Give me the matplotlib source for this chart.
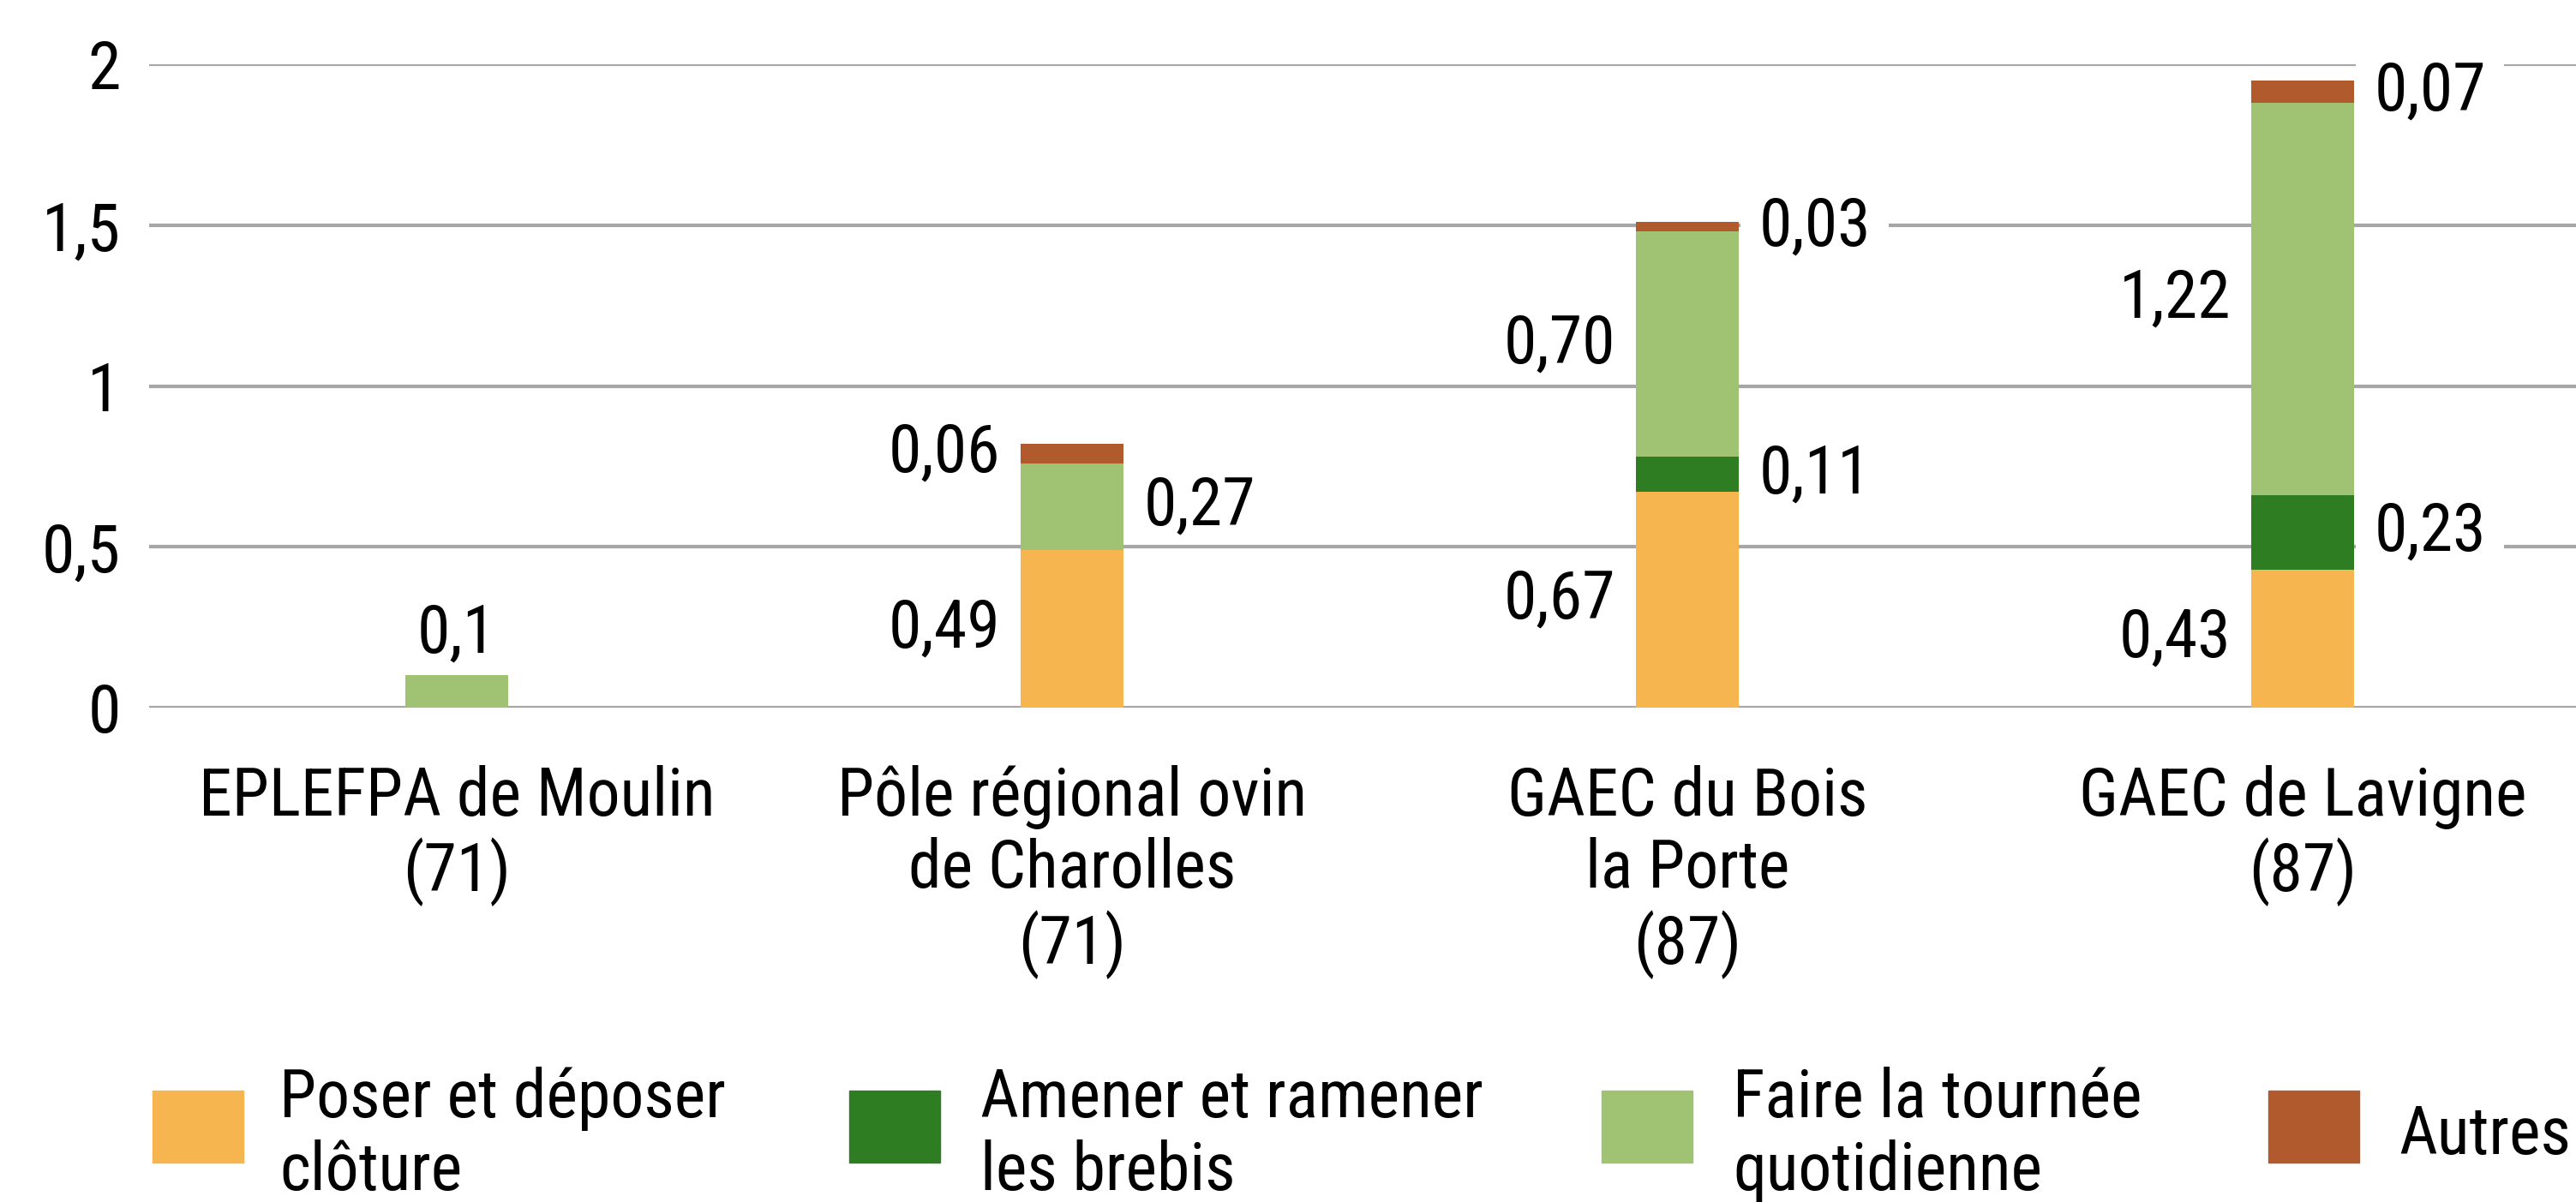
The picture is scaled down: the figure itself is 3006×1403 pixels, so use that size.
import matplotlib
matplotlib.use("Agg")
import matplotlib.pyplot as plt
from matplotlib import font_manager
from matplotlib.patches import Rectangle
import numpy as np

# ---- data ----
categories = ["EPLEFPA de Moulin\n(71)",
              "Pôle régional ovin\nde Charolles\n(71)",
              "GAEC du Bois\nla Porte\n(87)",
              "GAEC de Lavigne\n(87)"]
series_names = ["Poser et déposer\nclôture",
                "Amener et ramener\nles brebis",
                "Faire la tournée\nquotidienne",
                "Autres"]
poser = [0.0, 0.49, 0.67, 0.43]
amener = [0.0, 0.0, 0.11, 0.23]
tournee = [0.10, 0.27, 0.70, 1.22]
autres = [0.0, 0.06, 0.03, 0.07]
label_texts = [
    [None, "0,49", "0,67", "0,43"],
    [None, None, "0,11", "0,23"],
    ["0,1", "0,27", "0,70", "1,22"],
    [None, "0,06", "0,03", "0,07"],
]
yticks = [0, 0.5, 1, 1.5, 2]
ytick_labels = ["0", "0,5", "1", "1,5", "2"]

# ---- style ----
colors = ["#F7B550", "#2E7D23", "#A0C373", "#B05A2E"]
# side of label: -1 left, +1 right, 0 above
label_side = [
    [0, -1, -1, -1],
    [0, 0, 1, 1],
    [0, 1, -1, -1],
    [0, -1, 1, 1],
]

avail = {f.name for f in font_manager.fontManager.ttflist}
family = "DejaVu Sans"
for cand in ["Liberation Sans Narrow", "Roboto Condensed", "Open Sans Condensed", "Roboto"]:
    if cand in avail:
        family = cand
        break
plt.rcParams["font.family"] = [family, "DejaVu Sans"]
FS = 56
LS = 1.16

W, H = 3006, 1403
fig = plt.figure(figsize=(W / 100, H / 100), dpi=100)
ax_left, ax_right = 174, 3046
ax_top, ax_bot = 75, 826
ax = fig.add_axes([ax_left / W, 1 - ax_bot / H, (ax_right - ax_left) / W, (ax_bot - ax_top) / H])

x = np.arange(len(categories))
data = [poser, amener, tournee, autres]
bottom = np.zeros(len(categories))
bw = 0.167
for i, vals in enumerate(data):
    vals = np.array(vals)
    ax.bar(x, vals, bw, bottom=bottom, color=colors[i], zorder=2, linewidth=0)
    for j in range(len(categories)):
        t = label_texts[i][j]
        if t is None:
            continue
        side = label_side[i][j]
        if side == 0:
            ax.text(x[j], bottom[j] + vals[j] + 0.03, t, ha="center", va="bottom", fontsize=FS, zorder=3)
        else:
            kw = {}
            if side == 1 and i != 2:
                kw["bbox"] = dict(facecolor="white", edgecolor="none", pad=15)
            ax.text(x[j] + side * 0.207, bottom[j] + vals[j] / 2, t, ha="center", va="center",
                    fontsize=FS, zorder=3, **kw)
    bottom = bottom + vals

ax.set_xlim(-0.5, len(categories) - 0.5)
ax.set_ylim(0, 2)
ax.set_yticks(yticks)
ax.set_yticklabels(ytick_labels, fontsize=FS, ha="right")
ax.set_xticks(x)
ax.set_xticklabels(categories, fontsize=FS, linespacing=LS, va="top")
ax.tick_params(axis="y", length=0, pad=24)
ax.tick_params(axis="x", length=0, pad=48)
ax.yaxis.grid(True, color="#A6A6A6", linewidth=3.0, zorder=0)
ax.set_axisbelow(True)
for s in ax.spines.values():
    s.set_visible(False)

# ---- legend (manual) ----
sq_x = [178, 991, 1869, 2647]
txt_x = [326, 1144, 2022, 2799]
sq_top, sq_h, sq_w = 1273, 84, 106
for i in range(4):
    fig.patches.append(Rectangle((sq_x[i] / W, 1 - (sq_top + sq_h) / H), sq_w / W, sq_h / H,
                                 transform=fig.transFigure, color=colors[i], figure=fig))
    fig.text(txt_x[i] / W, 1 - (sq_top + sq_h / 2 + 10) / H, series_names[i], ha="left", va="center",
             fontsize=FS, linespacing=LS)

fig.savefig("out.png", dpi=100, facecolor="white")
